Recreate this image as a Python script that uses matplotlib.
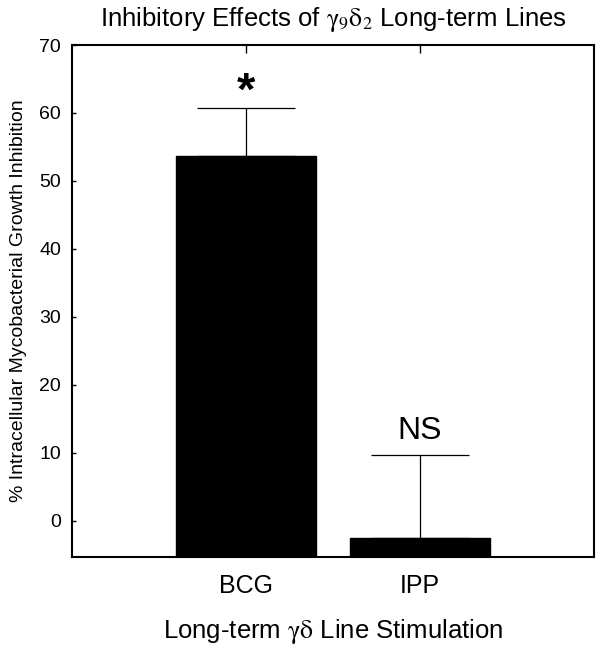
import matplotlib

matplotlib.use("Agg")
import matplotlib.pyplot as plt

# Data
categories = ["BCG", "IPP"]
means = [53.7, -2.5]
errors = [7.1, 12.2]
sig_labels = ["*", "NS"]
y_ticks = [0, 10, 20, 30, 40, 50, 60, 70]

Y_MIN, Y_MAX = -5.3, 70

plt.rcParams["font.family"] = ["Liberation Sans", "DejaVu Sans"]
plt.rcParams["mathtext.fontset"] = "stix"

fig = plt.figure(figsize=(6.02, 6.47), dpi=100)
ax = fig.add_axes([72 / 602, 90 / 647, 522 / 602, 512 / 647])

x = [1, 2]
# SigmaPlot-style bars: drawn up from the bottom of the axis
ax.bar(x, [m - Y_MIN for m in means], bottom=Y_MIN, width=0.81,
       color="black", edgecolor="black", zorder=2)
ax.errorbar(x, means, yerr=[[0, 0], errors], fmt="none", ecolor="black",
            elinewidth=0.9, capsize=35, capthick=0.9, zorder=1)

for xi, m, e, lab in zip(x, means, errors, sig_labels):
    if lab == "*":
        ax.text(xi, m + e + 2.2, lab, ha="center", va="center",
                fontsize=34, fontweight="bold")
    else:
        ax.text(xi, m + e + 3.5, lab, ha="center", va="center", fontsize=23)

ax.set_xlim(0, 3)
ax.set_ylim(Y_MIN, Y_MAX)
ax.set_yticks(y_ticks)
ax.set_xticks(x)
ax.set_xticklabels(categories, fontsize=18)
ax.tick_params(axis="y", direction="in", length=3, width=1, labelsize=14,
               pad=8)
ax.tick_params(axis="x", direction="in", length=6, width=1, bottom=False,
               top=True, pad=12)

for sp in ax.spines.values():
    sp.set_linewidth(1.5)

ax.set_ylabel("% Intracellular Mycobacterial Growth Inhibition", fontsize=14,
              labelpad=9)
ax.set_xlabel(r"Long-term $\mathrm{\gamma\delta}$ Line Stimulation",
              fontsize=18.5, labelpad=14)
ax.set_title(r"Inhibitory Effects of $\mathrm{\gamma}_9\mathrm{\delta}_2$"
             " Long-term Lines", fontsize=18.5, pad=14)

fig.savefig("out.png", dpi=100)
